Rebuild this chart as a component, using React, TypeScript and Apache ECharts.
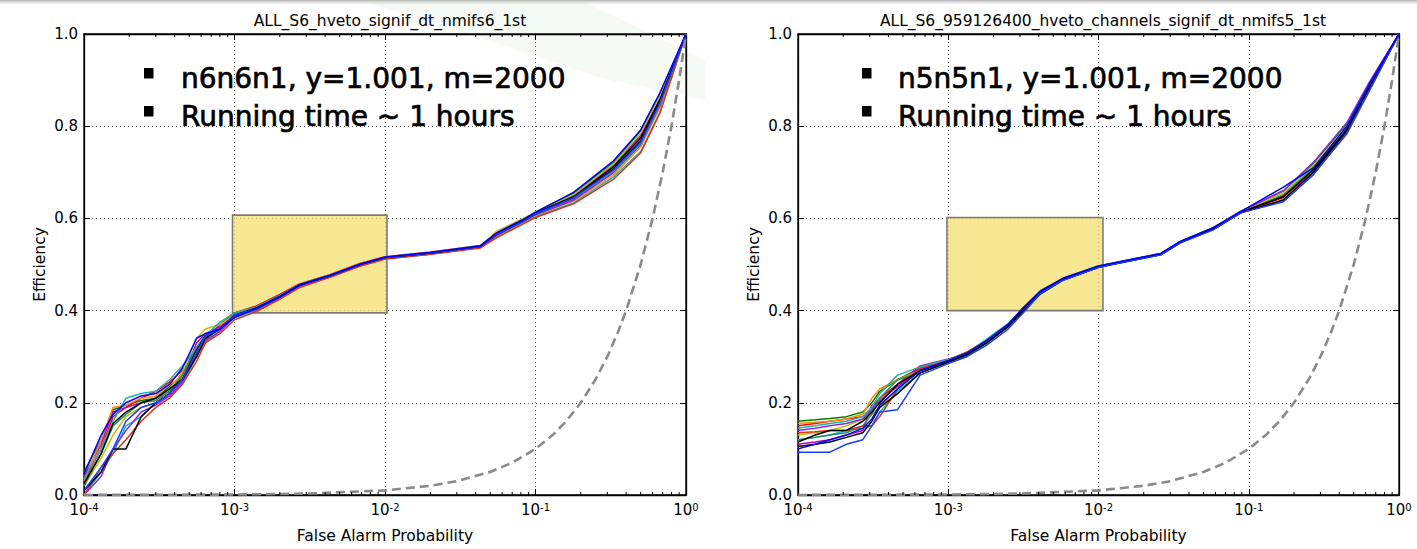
import React, { useEffect, useRef } from "react";
import * as echarts from "echarts";

const FONT = "DejaVu Sans";

const TITLE_LEFT = "ALL_S6_hveto_signif_dt_nmifs6_1st";
const TITLE_RIGHT = "ALL_S6_959126400_hveto_channels_signif_dt_nmifs5_1st";
const X_NAME = "False Alarm Probability";
const Y_NAME = "Efficiency";
const NOTE_LEFT = ["n6n6n1, y=1.001, m=2000", "Running time ~ 1 hours"];
const NOTE_RIGHT = ["n5n5n1, y=1.001, m=2000", "Running time ~ 1 hours"];

const X_MIN = 1e-4;
const X_MAX = 1;
const Y_MIN = 0;
const Y_MAX = 1;
const Y_STEP = 0.2;

const MINOR_TICKS = [
  2e-4, 3e-4, 4e-4, 5e-4, 6e-4, 7e-4, 8e-4, 9e-4,
  2e-3, 3e-3, 4e-3, 5e-3, 6e-3, 7e-3, 8e-3, 9e-3,
  2e-2, 3e-2, 4e-2, 5e-2, 6e-2, 7e-2, 8e-2, 9e-2,
  0.2, 0.3, 0.4, 0.5, 0.6, 0.7, 0.8, 0.9,
];

// chance line (efficiency = false alarm probability)
const CHANCE = [1e-4, 1e-3, 3e-3, 1e-2, 0.02, 0.03, 0.05, 0.07, 0.1, 0.13, 0.16, 0.2, 0.25, 0.3, 0.35, 0.4, 0.5, 0.6, 0.7, 0.8, 0.9, 1.0];

// highlighted boxes [xFrom, yFrom, xTo, yTo]
const BOX_LEFT = [0.00097, 0.395, 0.0103, 0.607];
const BOX_RIGHT = [0.00098, 0.4, 0.0107, 0.602];

// ---- left panel ----
const L_FAP = [1e-4, 1.3e-4, 1.56e-4, 1.9e-4, 2.4e-4, 3e-4, 3.7e-4, 4.5e-4, 5.6e-4, 6.4e-4, 8e-4, 1e-3, 1.4e-3, 2e-3, 2.7e-3, 4.3e-3, 6.8e-3, 1e-2, 2e-2, 4.3e-2, 5.5e-2, 8.3e-2, 0.1, 0.18, 0.33, 0.5, 0.67, 1.0];
const L01 = [0.05, 0.12, 0.185, 0.195, 0.205, 0.21, 0.235, 0.26, 0.32, 0.345, 0.36, 0.392, 0.403, 0.428, 0.452, 0.474, 0.498, 0.514, 0.524, 0.538, 0.566, 0.598, 0.614, 0.655, 0.722, 0.79, 0.87, 1.0];
const L02 = [0.03, 0.10, 0.17, 0.19, 0.21, 0.225, 0.245, 0.27, 0.30, 0.335, 0.37, 0.395, 0.41, 0.435, 0.458, 0.478, 0.502, 0.517, 0.527, 0.541, 0.57, 0.596, 0.611, 0.642, 0.70, 0.762, 0.848, 1.0];
const L03 = [0.0, 0.05, 0.09, 0.15, 0.17, 0.20, 0.215, 0.24, 0.30, 0.33, 0.355, 0.385, 0.40, 0.425, 0.452, 0.473, 0.497, 0.512, 0.522, 0.537, 0.56, 0.59, 0.604, 0.634, 0.69, 0.745, 0.83, 1.0];
const L04 = [0.04, 0.11, 0.18, 0.19, 0.20, 0.21, 0.225, 0.255, 0.33, 0.35, 0.365, 0.39, 0.407, 0.432, 0.455, 0.476, 0.50, 0.516, 0.526, 0.54, 0.568, 0.597, 0.612, 0.65, 0.715, 0.78, 0.86, 1.0];
const L05 = [0.02, 0.08, 0.13, 0.17, 0.19, 0.20, 0.23, 0.265, 0.34, 0.36, 0.37, 0.39, 0.405, 0.43, 0.454, 0.475, 0.499, 0.515, 0.525, 0.539, 0.572, 0.60, 0.613, 0.652, 0.718, 0.785, 0.865, 1.0];
const L06 = [0.03, 0.12, 0.19, 0.195, 0.21, 0.215, 0.24, 0.255, 0.31, 0.34, 0.36, 0.388, 0.404, 0.43, 0.455, 0.477, 0.50, 0.515, 0.525, 0.54, 0.562, 0.592, 0.607, 0.638, 0.695, 0.755, 0.84, 1.0];
const L07 = [0.0, 0.04, 0.10, 0.14, 0.18, 0.195, 0.215, 0.245, 0.305, 0.335, 0.355, 0.387, 0.402, 0.427, 0.453, 0.474, 0.498, 0.513, 0.523, 0.538, 0.563, 0.593, 0.608, 0.64, 0.70, 0.76, 0.845, 1.0];
const L08 = [0.02, 0.09, 0.15, 0.175, 0.20, 0.205, 0.225, 0.26, 0.32, 0.34, 0.36, 0.39, 0.405, 0.43, 0.455, 0.476, 0.50, 0.516, 0.526, 0.54, 0.567, 0.596, 0.611, 0.648, 0.71, 0.772, 0.855, 1.0];
const L09 = [0.0, 0.06, 0.09, 0.12, 0.16, 0.19, 0.21, 0.24, 0.29, 0.33, 0.35, 0.38, 0.398, 0.425, 0.45, 0.472, 0.496, 0.512, 0.522, 0.536, 0.558, 0.588, 0.602, 0.632, 0.685, 0.742, 0.828, 1.0];
const L10 = [0.035, 0.10, 0.16, 0.21, 0.22, 0.225, 0.25, 0.28, 0.32, 0.345, 0.375, 0.395, 0.408, 0.433, 0.457, 0.477, 0.501, 0.516, 0.526, 0.541, 0.566, 0.595, 0.61, 0.644, 0.703, 0.763, 0.847, 1.0];
const L11 = [0.025, 0.09, 0.155, 0.18, 0.20, 0.21, 0.23, 0.25, 0.315, 0.345, 0.36, 0.39, 0.406, 0.431, 0.456, 0.476, 0.5, 0.515, 0.525, 0.54, 0.567, 0.597, 0.612, 0.647, 0.712, 0.775, 0.857, 1.0];
const L12 = [0.01, 0.05, 0.10, 0.10, 0.17, 0.20, 0.22, 0.25, 0.30, 0.34, 0.36, 0.39, 0.404, 0.43, 0.455, 0.475, 0.5, 0.515, 0.525, 0.539, 0.565, 0.594, 0.61, 0.646, 0.707, 0.768, 0.852, 1.0];
const L13 = [0.01, 0.06, 0.10, 0.16, 0.19, 0.20, 0.22, 0.25, 0.31, 0.345, 0.36, 0.39, 0.404, 0.43, 0.455, 0.475, 0.50, 0.515, 0.525, 0.539, 0.565, 0.594, 0.61, 0.645, 0.705, 0.765, 0.85, 1.0];
const L14 = [0.045, 0.13, 0.175, 0.20, 0.215, 0.22, 0.24, 0.275, 0.34, 0.35, 0.36, 0.385, 0.405, 0.43, 0.455, 0.476, 0.50, 0.516, 0.526, 0.54, 0.568, 0.598, 0.613, 0.657, 0.725, 0.792, 0.872, 1.0];
const LEFT_CURVES = [L01, L02, L03, L04, L05, L06, L07, L08, L09, L10, L11, L12, L13, L14];

// ---- right panel ----
const R_FAP = [1e-4, 1.3e-4, 1.63e-4, 2.1e-4, 2.7e-4, 3.1e-4, 3.5e-4, 4.6e-4, 6.5e-4, 1e-3, 1.33e-3, 1.8e-3, 2.5e-3, 3.15e-3, 4.1e-3, 5.8e-3, 1e-2, 1.7e-2, 2.6e-2, 3.5e-2, 5.8e-2, 8.8e-2, 0.17, 0.27, 0.45, 0.64, 1.0];
const R01 = [0.16, 0.163, 0.166, 0.17, 0.18, 0.20, 0.225, 0.25, 0.275, 0.293, 0.31, 0.335, 0.37, 0.405, 0.443, 0.47, 0.497, 0.512, 0.524, 0.55, 0.58, 0.615, 0.66, 0.72, 0.805, 0.895, 1.0];
const R02 = [0.15, 0.155, 0.16, 0.165, 0.17, 0.19, 0.21, 0.24, 0.275, 0.29, 0.303, 0.33, 0.365, 0.40, 0.438, 0.467, 0.494, 0.509, 0.521, 0.547, 0.576, 0.612, 0.64, 0.70, 0.788, 0.882, 1.0];
const R03 = [0.12, 0.125, 0.13, 0.14, 0.145, 0.15, 0.18, 0.225, 0.265, 0.29, 0.308, 0.338, 0.372, 0.402, 0.44, 0.468, 0.496, 0.511, 0.523, 0.549, 0.578, 0.613, 0.652, 0.712, 0.797, 0.888, 1.0];
const R04 = [0.11, 0.115, 0.12, 0.13, 0.14, 0.195, 0.20, 0.24, 0.28, 0.295, 0.305, 0.33, 0.368, 0.405, 0.441, 0.469, 0.495, 0.51, 0.522, 0.548, 0.577, 0.613, 0.645, 0.703, 0.79, 0.884, 1.0];
const R05 = [0.13, 0.135, 0.14, 0.15, 0.165, 0.175, 0.19, 0.23, 0.27, 0.287, 0.303, 0.328, 0.366, 0.404, 0.442, 0.47, 0.496, 0.511, 0.523, 0.549, 0.579, 0.614, 0.655, 0.715, 0.80, 0.89, 1.0];
const R06 = [0.155, 0.158, 0.16, 0.165, 0.175, 0.21, 0.23, 0.25, 0.27, 0.29, 0.305, 0.33, 0.367, 0.402, 0.44, 0.468, 0.495, 0.51, 0.522, 0.548, 0.576, 0.611, 0.642, 0.698, 0.782, 0.878, 1.0];
const R07 = [0.14, 0.145, 0.15, 0.155, 0.165, 0.185, 0.205, 0.235, 0.27, 0.29, 0.305, 0.332, 0.368, 0.404, 0.441, 0.469, 0.496, 0.511, 0.523, 0.549, 0.579, 0.615, 0.66, 0.722, 0.808, 0.898, 1.0];
const R08 = [0.12, 0.125, 0.13, 0.135, 0.15, 0.175, 0.21, 0.25, 0.265, 0.288, 0.302, 0.33, 0.365, 0.403, 0.44, 0.468, 0.495, 0.51, 0.522, 0.548, 0.577, 0.613, 0.65, 0.708, 0.795, 0.887, 1.0];
const R09 = [0.135, 0.137, 0.14, 0.14, 0.15, 0.15, 0.17, 0.23, 0.275, 0.293, 0.31, 0.335, 0.37, 0.403, 0.44, 0.468, 0.496, 0.511, 0.523, 0.549, 0.578, 0.613, 0.648, 0.705, 0.792, 0.886, 1.0];
const R10 = [0.145, 0.15, 0.155, 0.16, 0.17, 0.19, 0.22, 0.26, 0.278, 0.294, 0.306, 0.332, 0.368, 0.398, 0.438, 0.467, 0.494, 0.509, 0.521, 0.547, 0.576, 0.612, 0.638, 0.697, 0.785, 0.88, 1.0];
const R11 = [0.105, 0.11, 0.115, 0.125, 0.135, 0.16, 0.19, 0.22, 0.265, 0.288, 0.304, 0.33, 0.366, 0.404, 0.441, 0.469, 0.495, 0.51, 0.522, 0.548, 0.577, 0.613, 0.647, 0.706, 0.793, 0.886, 1.0];
const R12 = [0.115, 0.13, 0.14, 0.14, 0.16, 0.18, 0.20, 0.24, 0.27, 0.29, 0.305, 0.33, 0.365, 0.398, 0.436, 0.466, 0.494, 0.51, 0.522, 0.548, 0.577, 0.612, 0.64, 0.70, 0.79, 0.884, 1.0];
const R13 = [0.093, 0.093, 0.093, 0.11, 0.12, 0.15, 0.18, 0.185, 0.26, 0.285, 0.30, 0.325, 0.36, 0.395, 0.437, 0.466, 0.494, 0.509, 0.521, 0.547, 0.575, 0.612, 0.636, 0.695, 0.785, 0.88, 1.0];
const R14 = [0.10, 0.11, 0.12, 0.13, 0.145, 0.165, 0.195, 0.23, 0.27, 0.292, 0.308, 0.335, 0.37, 0.406, 0.442, 0.47, 0.497, 0.512, 0.524, 0.55, 0.58, 0.614, 0.668, 0.71, 0.80, 0.893, 1.0];
const RIGHT_CURVES = [R01, R02, R03, R04, R05, R06, R07, R08, R09, R10, R11, R12, R13, R14];

const COLORS = [
  "#008000", "#ff0000", "#00bfbf", "#bf00bf", "#bfbf00", "#ff8c00", "#8a2be2",
  "#2e8b57", "#e0301e", "#20b2aa", "#000000", "#000000", "#1e3cff", "#0000ff",
];

function xAxisBottom(grid: number) {
  return {
    type: "log",
    logBase: 10,
    gridIndex: grid,
    min: X_MIN,
    max: X_MAX,
    position: "bottom",
    axisLine: { show: true, onZero: false, lineStyle: { color: "#000", width: 1.3 } },
    axisTick: { show: true, inside: true, length: 6, lineStyle: { color: "#000", width: 1 } },
    axisLabel: {
      margin: 7,
      formatter: (v: number) => `{b|10}{s|${Math.round(Math.log10(v))}}`,
      rich: {
        b: { fontSize: 15, fontFamily: FONT, color: "#000", lineHeight: 15, padding: [4, 0, 0, 0], verticalAlign: "bottom" },
        s: { fontSize: 10, fontFamily: FONT, color: "#000", lineHeight: 11, verticalAlign: "top" },
      },
    },
    splitLine: { show: true, lineStyle: { color: "#666", type: [1, 3], width: 1 } },
    name: X_NAME,
    nameLocation: "middle",
    nameGap: 33,
    nameTextStyle: { fontFamily: FONT, fontSize: 15.5, color: "#000" },
  };
}

function xAxisTop(grid: number) {
  return {
    type: "log",
    logBase: 10,
    gridIndex: grid,
    min: X_MIN,
    max: X_MAX,
    position: "top",
    axisLine: { show: true, onZero: false, lineStyle: { color: "#000", width: 1.3 } },
    axisTick: { show: true, inside: true, length: 6, lineStyle: { color: "#000", width: 1 } },
    axisLabel: { show: false },
    splitLine: { show: false },
  };
}

function yAxisLeft(grid: number) {
  return {
    type: "value",
    gridIndex: grid,
    min: Y_MIN,
    max: Y_MAX,
    interval: Y_STEP,
    position: "left",
    axisLine: { show: true, onZero: false, lineStyle: { color: "#000", width: 1.3 } },
    axisTick: { show: true, inside: true, length: 6, lineStyle: { color: "#000", width: 1 } },
    axisLabel: { margin: 6, fontSize: 15, lineHeight: 12, fontFamily: FONT, color: "#000", formatter: (v: number) => v.toFixed(1) },
    splitLine: { show: true, lineStyle: { color: "#666", type: [1, 3], width: 1 } },
    name: Y_NAME,
    nameLocation: "middle",
    nameRotate: 90,
    nameGap: 36,
    nameTextStyle: { fontFamily: FONT, fontSize: 15.5, color: "#000" },
  };
}

function yAxisRight(grid: number) {
  return {
    type: "value",
    gridIndex: grid,
    min: Y_MIN,
    max: Y_MAX,
    interval: Y_STEP,
    position: "right",
    axisLine: { show: true, onZero: false, lineStyle: { color: "#000", width: 1.3 } },
    axisTick: { show: true, inside: true, length: 6, lineStyle: { color: "#000", width: 1 } },
    axisLabel: { show: false },
    splitLine: { show: false },
  };
}

function panelSeries(p: number, fap: number[], curves: number[][], box: number[]) {
  const xi = 2 * p;
  const yi = 2 * p;
  const out: any[] = [];
  curves.forEach((c, k) => {
    out.push({
      type: "line",
      xAxisIndex: xi,
      yAxisIndex: yi,
      data: fap.map((x, i) => [x, c[i]]),
      symbol: "none",
      silent: true,
      z: 2,
      lineStyle: { width: 1.5, color: COLORS[k % COLORS.length] },
    });
  });
  out.push({
    type: "line",
    xAxisIndex: xi,
    yAxisIndex: yi,
    data: CHANCE.map((v) => [v, v]),
    symbol: "none",
    silent: true,
    z: 3,
    lineStyle: { width: 2.6, color: "#8a8a8a", type: [9, 5] },
  });
  out.push({
    type: "line",
    xAxisIndex: xi,
    yAxisIndex: yi,
    data: [[box[0], box[1]]],
    symbol: "none",
    silent: true,
    z: 4,
    lineStyle: { opacity: 0 },
    markArea: {
      silent: true,
      itemStyle: { color: "rgba(244,220,104,0.72)", borderColor: "#7a7a7a", borderWidth: 1.6 },
      data: [[{ coord: [box[0], box[1]] }, { coord: [box[2], box[3]] }]],
    },
  });
  out.push({
    type: "custom",
    xAxisIndex: xi,
    yAxisIndex: yi,
    silent: true,
    z: 5,
    clip: false,
    data: MINOR_TICKS.map((v) => [v, Y_MIN]),
    encode: { x: 0, y: 1 },
    renderItem: (params: any, api: any) => {
      const b = api.coord([api.value(0), Y_MIN]);
      const t = api.coord([api.value(0), Y_MAX]);
      return {
        type: "group",
        children: [
          { type: "line", shape: { x1: b[0], y1: b[1], x2: b[0], y2: b[1] - 3 }, style: { stroke: "#000", lineWidth: 1 } },
          { type: "line", shape: { x1: t[0], y1: t[1], x2: t[0], y2: t[1] + 3 }, style: { stroke: "#000", lineWidth: 1 } },
        ],
      };
    },
  });
  return out;
}

function noteGraphics(bx: number, tx: number, lines: string[]) {
  const base = [78, 116];
  const out: any[] = [];
  lines.forEach((t, i) => {
    out.push({ type: "rect", shape: { x: bx, y: base[i] - 10, width: 9.5, height: 10.5 }, style: { fill: "#000" }, z: 20 });
    out.push({
      type: "text",
      x: tx,
      y: base[i],
      style: { text: t, fontSize: 28, fontFamily: FONT, fill: "#000", stroke: "#000", lineWidth: 0.7, verticalAlign: "middle", align: "left" },
      z: 20,
    });
  });
  return out;
}

export default function App() {
  const ref = useRef<HTMLDivElement>(null);
  useEffect(() => {
    if (!ref.current) return;
    const chart = echarts.init(ref.current, null, { renderer: "svg" });
    const option: any = {
      animation: false,
      backgroundColor: "#fff",
      title: [
        { text: TITLE_LEFT, left: 385, top: 8, textAlign: "center", textStyle: { fontFamily: FONT, fontSize: 15.5, fontWeight: "normal", color: "#000" } },
        { text: TITLE_RIGHT, left: 1098, top: 8, textAlign: "center", textStyle: { fontFamily: FONT, fontSize: 15.5, fontWeight: "normal", color: "#000" } },
      ],
      grid: [
        { left: 84, top: 34, width: 602, height: 463, show: true, borderColor: "#000", borderWidth: 1.3, backgroundColor: "transparent" },
        { left: 798, top: 34, width: 601, height: 463, show: true, borderColor: "#000", borderWidth: 1.3, backgroundColor: "transparent" },
      ],
      xAxis: [xAxisBottom(0), xAxisTop(0), xAxisBottom(1), xAxisTop(1)],
      yAxis: [yAxisLeft(0), yAxisRight(0), yAxisLeft(1), yAxisRight(1)],
      series: [
        ...panelSeries(0, L_FAP, LEFT_CURVES, BOX_LEFT),
        ...panelSeries(1, R_FAP, RIGHT_CURVES, BOX_RIGHT),
      ],
      graphic: [
        {
          type: "rect",
          shape: { x: 0, y: 0, width: 1417, height: 6 },
          style: {
            fill: new echarts.graphic.LinearGradient(0, 0, 0, 1, [
              { offset: 0, color: "rgba(110,110,110,0.55)" },
              { offset: 1, color: "rgba(255,255,255,0)" },
            ]),
          },
          z: 0,
          silent: true,
        },
        {
          type: "polygon",
          shape: { points: [[360, 0], [580, 0], [705, 60], [705, 100], [600, 78], [470, 35]] },
          style: { fill: "rgba(190,225,195,0.16)" },
          z: 0,
          silent: true,
        },
        ...noteGraphics(144, 181, NOTE_LEFT),
        ...noteGraphics(862, 898, NOTE_RIGHT),
      ],
    };
    chart.setOption(option);
    return () => chart.dispose();
  }, []);
  return <div ref={ref} style={{ position: "absolute", left: 0, top: 0, width: 1417, height: 549 }} />;
}
